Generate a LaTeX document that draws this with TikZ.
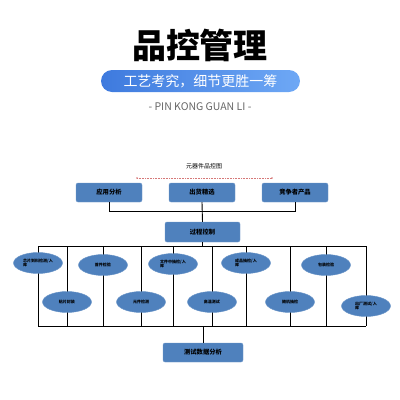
\documentclass[tikz,border=0pt]{standalone}
\usepackage{fontspec}
\newfontfamily\cjk{Noto Sans CJK SC}
\usetikzlibrary{positioning,shapes.geometric}
\definecolor{boxblue}{RGB}{79,129,189}
\definecolor{pillL}{RGB}{62,122,222}
\definecolor{pillR}{RGB}{110,168,245}
\definecolor{dotred}{RGB}{214,120,120}

\begin{document}
\begin{tikzpicture}[x=1pt,y=-1pt,
box/.style={fill=boxblue,draw=boxblue!80!white,rounded corners=2pt,minimum width=66pt,minimum height=19pt,font=\cjk\fontsize{6.3}{7}\bfseries},
oval/.style={ellipse,fill=boxblue,draw=boxblue!85!white,minimum width=49pt,minimum height=21pt,inner sep=1pt,align=left,font=\cjk\fontsize{4}{4.8}\bfseries},
wire/.style={line width=0.9pt,black}]
\useasboundingbox (0,0) rectangle (400,400);
% heading
\node[font=\cjk\fontsize{34}{36}\bfseries] (title) at (200,45) {品控管理};
\shade[left color=pillL,right color=pillR,rounded corners=11pt] (101,70) rectangle (300,92);
\node[font=\cjk\fontsize{14}{16}\selectfont,text=white] (slogan) at (200.5,81) {工艺考究，细节更胜一筹};
\node[font=\cjk\fontsize{10.5}{12}\selectfont,text=black!60] (pinyin) at (200,107) {- PIN KONG GUAN LI -};
% chart
\node[font=\cjk\fontsize{6}{7}\selectfont] (chart) at (204,166) {元器件品控图};
\coordinate (dl) at (137,178); \coordinate (dr) at (272,178);
\draw[dotred,densely dotted,line width=0.6pt] (dl) -- (dr);
\fill[dotred] (dl) circle (0.9pt) (dr) circle (0.9pt);
\node[box] (app) at (109,192.5) {应用分析};
\node[box] (ship) at (202,192.5) {出货精选};
\node[box] (rival) at (295,192.5) {竞争者产品};
\draw[wire] (app.south) -- ++(0,9) -| (rival.south);
\node[box,minimum width=75pt,minimum height=20pt] (proc) at (202.5,232) {过程控制};
\draw[wire] (ship.south) -- (proc.north);
\coordinate (tl) at (38,246); \coordinate (tr) at (366,246);
\coordinate (bl) at (38,326); \coordinate (br) at (366,326);
\draw[wire] (proc.south) -- (proc.south |- tl);
\draw[wire] (tl) -- (tr);
\draw[wire] (bl) -- (br);
% checkpoints
\foreach \n/\x/\y/\t in {e1/38/263/{芯片到料检测/入\\库},e2/103/265/{首件检验},e3/173/264/{文件中抽检/入\\库},e4/246/263/{成品抽检/入\\库},e5/326/265/{包装检验},
e6/67/302/{贴片封装},e7/141/302/{元件检测},e8/212/302/{高温测试},e9/290/302/{随机抽检},e10/366/306/{出厂测试/入\\库}}{
\coordinate (c\n) at (\x,\y);
\draw[wire] (c\n |- tl) -- (c\n |- bl);
\node[oval] (\n) at (c\n) {\t};
}
\node[box,minimum width=80pt,minimum height=19pt] (test) at (203,352.5) {测试数据分析};
\draw[wire] (test.north) -- (test.north |- bl);
\end{tikzpicture}
\end{document}
